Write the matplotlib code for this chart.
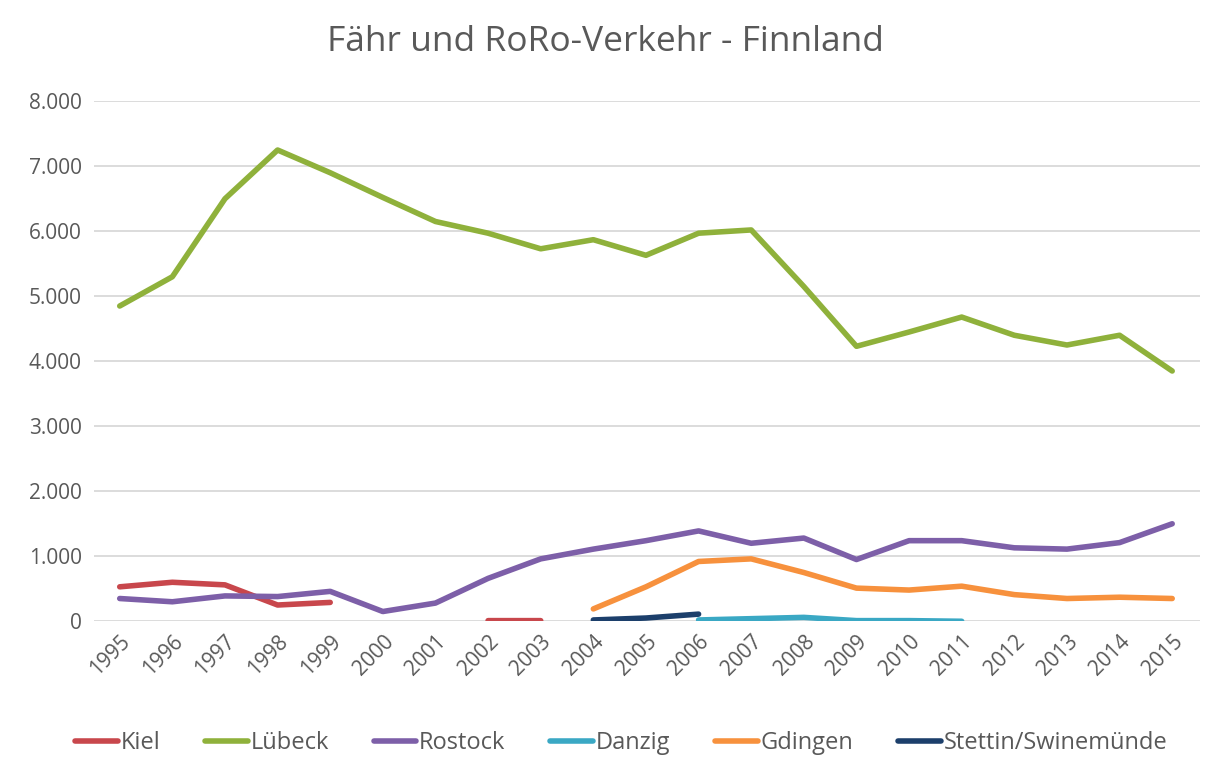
import matplotlib
matplotlib.use("Agg")
import matplotlib.pyplot as plt
import numpy as np

plt.rcParams['font.family'] = ['Open Sans', 'DejaVu Sans']

years = [str(y) for y in range(1995, 2016)]
nan = np.nan
kiel = [530, 600, 560, 250, 290, nan, nan, 10, 10, nan, nan, nan, nan, nan, nan, nan, nan, nan, nan, nan, nan]
luebeck = [4850, 5300, 6500, 7250, 6900, 6520, 6150, 5970, 5730, 5870, 5630, 5970, 6020, 5150, 4230, 4450, 4680, 4400, 4250, 4400, 3850]
rostock = [350, 300, 390, 380, 460, 150, 280, 660, 960, 1110, 1240, 1390, 1200, 1280, 950, 1240, 1240, 1130, 1110, 1210, 1500]
danzig = [nan]*11 + [20, 40, 60, 10, 10, 0] + [nan]*4
gdingen = [nan]*9 + [190, 530, 920, 960, 750, 510, 480, 540, 410, 350, 370, 350]
stettin = [nan]*9 + [20, 50, 110] + [nan]*9

series = [
    ("Kiel", kiel, "#c8474c"),
    ("Lübeck", luebeck, "#8fb13b"),
    ("Rostock", rostock, "#7d5fa8"),
    ("Danzig", danzig, "#3aa8c4"),
    ("Gdingen", gdingen, "#f7913d"),
    ("Stettin/Swinemünde", stettin, "#1c3f6b"),
]

fig = plt.figure(figsize=(12.11, 7.67), dpi=100)
ax = fig.add_axes([0.078, 0.19, 0.913, 0.678])
x = np.arange(len(years))
for name, vals, col in series:
    ax.plot(x, vals, color=col, lw=4.0, label=name, solid_capstyle='round', solid_joinstyle='round')

ax.set_xlim(-0.48, 20.53)
ax.set_ylim(0, 8000)
ax.set_yticks(range(0, 8001, 1000))
ax.set_yticklabels(['0'] + [f"{v//1000}.000" for v in range(1000, 8001, 1000)])
ax.set_xticks(x)
ax.set_xticklabels(years, rotation=45, ha='right', rotation_mode='anchor')
ax.tick_params(axis='both', length=0, labelsize=15, colors='#595959')
ax.tick_params(axis='y', pad=9)
ax.tick_params(axis='x', pad=7)
ax.yaxis.grid(True, color='#d9d9d9', lw=1.3)
ax.set_axisbelow(True)
for s in ax.spines.values():
    s.set_visible(False)

fig.text(0.5, 0.945, "Fähr und RoRo-Verkehr - Finnland", ha='center', va='center', fontsize=25.5, color='#595959')
leg = fig.legend(loc='center', bbox_to_anchor=(0.513, 0.031), ncol=6, frameon=False, fontsize=17,
                 handlelength=1.8, handletextpad=0.12, columnspacing=1.9)
for t in leg.get_texts():
    t.set_color('#595959')
fig.savefig("out.png", dpi=100)
